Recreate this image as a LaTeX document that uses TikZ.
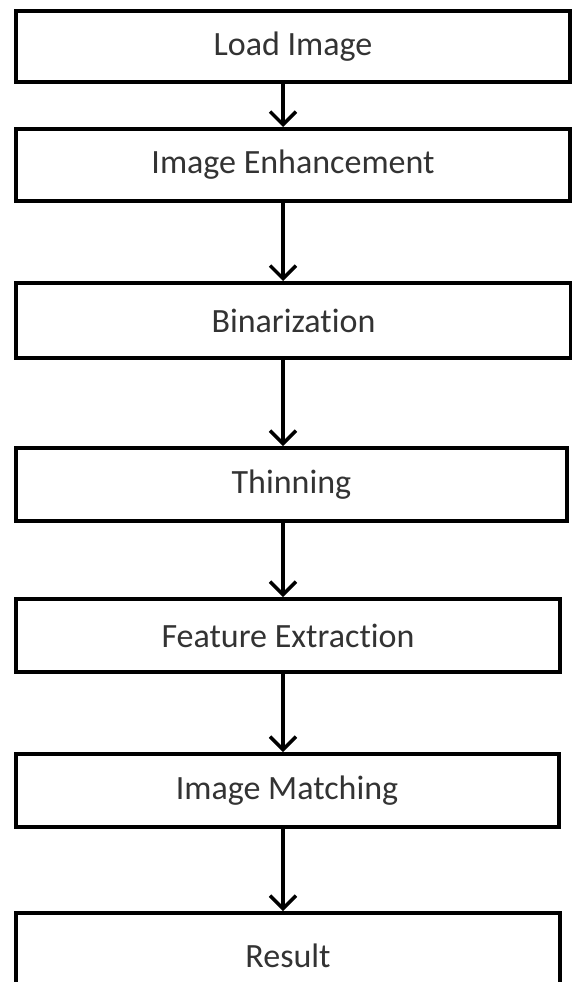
\documentclass[tikz,border=0pt]{standalone}
\usepackage{fontspec}
\setmainfont[Ligatures=NoCommon]{Carlito}
\usetikzlibrary{arrows.meta}

\tikzset{
  stage/.style={draw=black,line width=4pt,fill=white,minimum height=73pt,
    text=black!80,font=\fontsize{34}{40}\selectfont,inner sep=0pt},
  flow/.style={line width=3.5pt,-{Straight Barb[length=13pt,width=26pt,line width=3.5pt]}}
}

\begin{document}
\begin{tikzpicture}[x=1pt,y=-1pt]
\clip (0,0) rectangle (572,982);
\fill[white] (0,0) rectangle (572,982);
\coordinate (spine) at (283,0);
\node[stage,minimum width=554pt,minimum height=71pt] (load) at (293,46.5) {Load Image};
\node[stage,minimum width=554pt,minimum height=72pt] (enh) at (293,165) {Image Enhancement};
\node[stage,minimum width=555pt,minimum height=75pt] (bin) at (293.5,320.5) {Binarization};
\node[stage,minimum width=551pt] (thin) at (291.5,484.5) {Thinning};
\node[stage,minimum width=544pt] (feat) at (288,635.5) {Feature Extraction};
\node[stage,minimum width=543pt] (match) at (287,790.5) {Image Matching};
\node[stage,minimum width=544pt,minimum height=86pt] (res) at (288,956) {Result};
%fleches
\draw[flow] (load.south -| spine) -- (enh.north -| spine);
\draw[flow] (enh.south -| spine) -- (bin.north -| spine);
\draw[flow] (bin.south -| spine) -- (thin.north -| spine);
\draw[flow] (thin.south -| spine) -- (feat.north -| spine);
\draw[flow] (feat.south -| spine) -- (match.north -| spine);
\draw[flow] (match.south -| spine) -- (res.north -| spine);
\end{tikzpicture}
\end{document}
